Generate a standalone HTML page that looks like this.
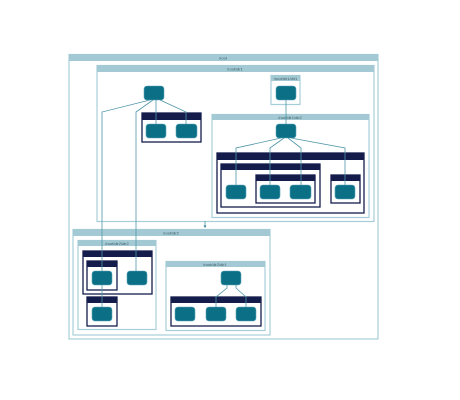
<!DOCTYPE html>
<html><head><style>html,body{margin:0;padding:0;background:#fff;}svg{display:block}</style></head>
<body>
<svg width="460" height="400" xmlns="http://www.w3.org/2000/svg" font-family="Liberation Sans, sans-serif">
<defs>
<marker id="ar" markerWidth="4" markerHeight="4" refX="2" refY="2" orient="auto"><path d="M0,0 L4,2 L0,4z" fill="#2f7f93"/></marker>
</defs>
<g fill="#fff" stroke="#a6ced8" stroke-width="1.2">
<rect x="69" y="54.5" width="309" height="284.5"/>
<rect x="97" y="65.5" width="277" height="156"/>
<rect x="271" y="75.5" width="29" height="29"/>
<rect x="212" y="114.5" width="157" height="103"/>
<rect x="73" y="229.5" width="197" height="105.5"/>
<rect x="78" y="240.5" width="78" height="89"/>
<rect x="166" y="261.5" width="99" height="69"/>
</g>
<g fill="#a3cad4">
<rect x="69" y="54" width="309" height="7"/>
<rect x="97" y="65" width="277" height="7"/>
<rect x="271" y="75" width="29" height="6"/>
<rect x="212" y="114" width="157" height="6"/>
<rect x="73" y="229" width="197" height="7"/>
<rect x="78" y="240" width="78" height="6"/>
<rect x="166" y="261" width="99" height="6"/>
</g>
<g font-size="4" fill="#3a5a66" text-anchor="middle">
<text x="223" y="59.5">/root</text>
<text x="235" y="70.5">/root/dir1</text>
<text x="285.5" y="80">/root/dir1/dir1</text>
<text x="290" y="119">/root/dir1/dir2</text>
<text x="171" y="234.5">/root/dir2</text>
<text x="117" y="245">/root/dir2/dir2</text>
<text x="215" y="266">/root/dir2/dir1</text>
</g>
<g fill="#fff" stroke="#131c4a" stroke-width="1.3">
<rect x="142" y="113" width="59" height="29"/>
<rect x="217" y="153" width="147" height="60"/>
<rect x="221" y="164" width="99" height="43"/>
<rect x="256" y="175" width="59" height="28"/>
<rect x="331" y="175" width="29" height="28"/>
<rect x="83" y="251" width="69" height="43"/>
<rect x="87" y="261" width="30" height="29"/>
<rect x="87" y="297" width="30" height="29"/>
<rect x="171" y="297" width="90" height="29"/>
</g>
<g fill="#131c4a">
<rect x="142" y="113" width="59" height="7"/>
<rect x="217" y="153" width="147" height="7"/>
<rect x="221" y="164" width="99" height="6"/>
<rect x="256" y="175" width="59" height="6"/>
<rect x="331" y="175" width="29" height="6"/>
<rect x="83" y="251" width="69" height="6"/>
<rect x="87" y="261" width="30" height="6"/>
<rect x="87" y="297" width="30" height="6"/>
<rect x="171" y="297" width="90" height="6"/>
</g>
<g fill="none" stroke="#4f96a8" stroke-width="0.8">
<polyline points="150,100 102,112 102,307"/>
<polyline points="153,100 136,112 136,271"/>
<polyline points="156,100 156,124"/>
<polyline points="160,100 186,112 186,124"/>
<line x1="286" y1="100" x2="286" y2="124"/>
<polyline points="281,138 236,148 236,185"/>
<polyline points="284,138 270,148 270,185"/>
<polyline points="288,138 301,148 301,185"/>
<polyline points="291,138 345,148 345,185"/>
<polyline points="227,285 227,288 216,297 216,307"/>
<polyline points="236,285 236,288 246,297 246,307"/>
<line x1="205" y1="221" x2="205" y2="227"/>
</g>
<path d="M203.5,225.5 L206.5,225.5 L205,228z" fill="#2f7f93"/>
<g fill="#0b6f85" stroke="#5da6b7" stroke-width="0.6">
<rect x="144" y="86" width="20" height="14" rx="3"/>
<rect x="146" y="124" width="20" height="14" rx="3"/>
<rect x="176" y="124" width="21" height="14" rx="3"/>
<rect x="276" y="86" width="20" height="14" rx="3"/>
<rect x="276" y="124" width="20" height="14" rx="3"/>
<rect x="226" y="185" width="20" height="14" rx="3"/>
<rect x="260" y="185" width="20" height="14" rx="3"/>
<rect x="290" y="185" width="21" height="14" rx="3"/>
<rect x="335" y="185" width="20" height="14" rx="3"/>
<rect x="92" y="271" width="20" height="14" rx="3"/>
<rect x="127" y="271" width="20" height="14" rx="3"/>
<rect x="92" y="307" width="20" height="14" rx="3"/>
<rect x="221" y="271" width="20" height="14" rx="3"/>
<rect x="175" y="307" width="20" height="14" rx="3"/>
<rect x="206" y="307" width="20" height="14" rx="3"/>
<rect x="236" y="307" width="20" height="14" rx="3"/>
</g>
</svg>
</body></html>
